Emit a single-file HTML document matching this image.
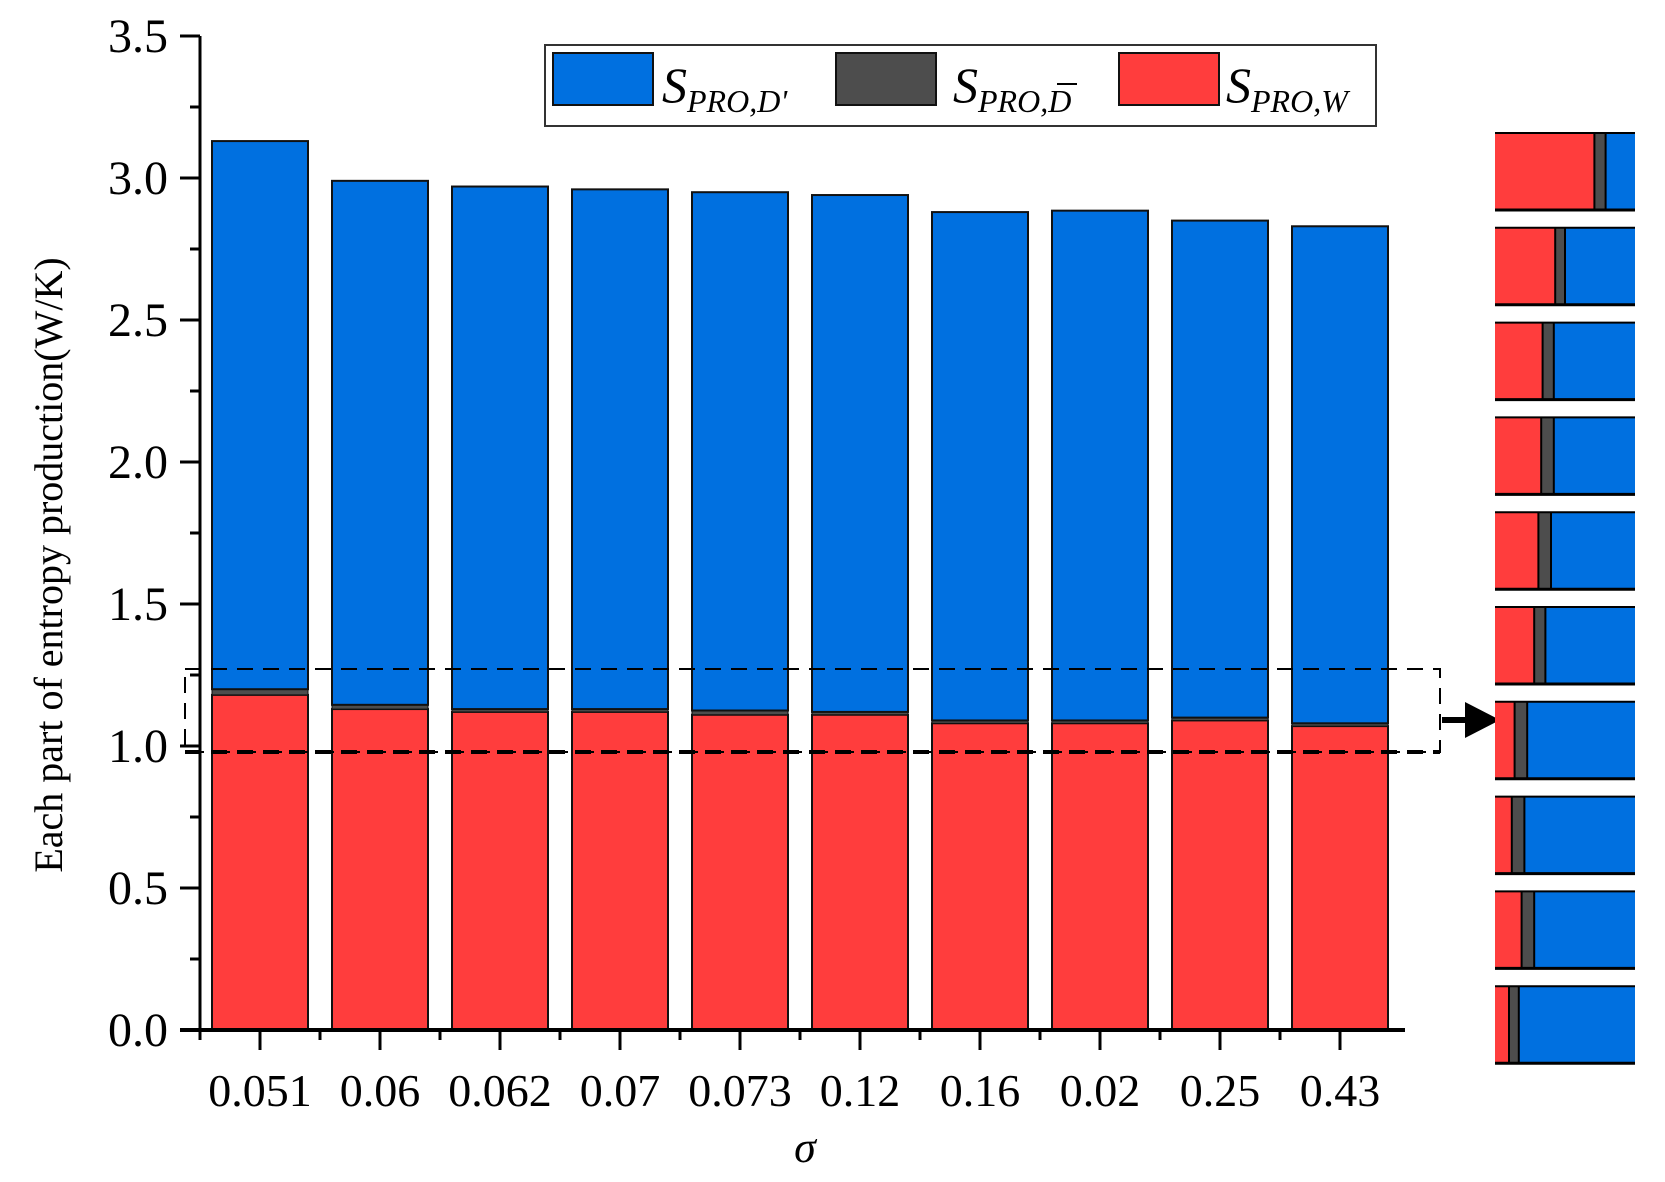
<!DOCTYPE html>
<html><head><meta charset="utf-8">
<style>
html,body{margin:0;padding:0;background:#fff;}
svg{display:block;font-family:"Liberation Serif",serif;}
</style></head>
<body>
<svg id="chart" width="1665" height="1182" viewBox="0 0 1665 1182">
<g id="plot"></g>
<g id="axes"></g>
<g id="legend">
  <rect x="545" y="45" width="831" height="81" fill="#fff" stroke="#333" stroke-width="2"/>
  <rect x="553" y="53" width="100" height="52" fill="#0070e0" stroke="#111" stroke-width="2"/>
  <text x="662" y="102" font-size="50" font-style="italic">S<tspan font-size="32" dy="10">PRO,D'</tspan></text>
  <rect x="836" y="53" width="100" height="52" fill="#4d4d4d" stroke="#111" stroke-width="2"/>
  <text x="953" y="102" font-size="50" font-style="italic">S<tspan font-size="32" dy="10">PRO,D</tspan></text>
  <line x1="1057" y1="84" x2="1077" y2="84" stroke="#000" stroke-width="2"/>
  <rect x="1119" y="53" width="100" height="52" fill="#ff3d3d" stroke="#111" stroke-width="2"/>
  <text x="1226" y="102" font-size="50" font-style="italic">S<tspan font-size="32" dy="10">PRO,W</tspan></text>
</g>
<text x="62" y="565" font-size="40" text-anchor="middle" transform="rotate(-90 62 565)">Each part of entropy production(W/K)</text>
<text x="805" y="1162" font-size="44" font-style="italic" text-anchor="middle">σ</text>
<g id="zoom">
  <rect x="185" y="669" width="1255" height="83" fill="none" stroke="#000" stroke-width="2" stroke-dasharray="16,10"/>
  <line x1="185" y1="752" x2="1440" y2="752" stroke="#000" stroke-width="4" stroke-dasharray="16,10"/>
  <line x1="1442" y1="720" x2="1470" y2="720" stroke="#000" stroke-width="6"/>
  <polygon points="1465,702 1500,720 1465,738" fill="#000"/>
</g>
<g id="strips"></g>
</svg>
<script>
const categories = ["0.051","0.06","0.062","0.07","0.073","0.12","0.16","0.02","0.25","0.43"];
const wValues = [1.18,1.13,1.12,1.12,1.11,1.11,1.08,1.08,1.09,1.07];
const dBarValues = [0.02,0.015,0.01,0.01,0.015,0.01,0.01,0.01,0.01,0.01];
const totalValues = [3.13,2.99,2.97,2.96,2.95,2.94,2.88,2.885,2.85,2.83];
const yTicks = [0,0.5,1.0,1.5,2.0,2.5,3.0,3.5];
const yTickLabels = ["0.0","0.5","1.0","1.5","2.0","2.5","3.0","3.5"];
const stripRedFrac = [0.71,0.43,0.34,0.33,0.31,0.28,0.14,0.12,0.19,0.10];
const stripDarkFrac = [0.08,0.07,0.08,0.09,0.09,0.08,0.09,0.09,0.09,0.07];

const NS="http://www.w3.org/2000/svg";
const X0=200, Y0=1030, PX=120, PY=284, BW=96;
const xc=i=>X0+PX*(i+0.5);
const ys=v=>Y0-v*PY;
function mk(tag,attrs,parent){const e=document.createElementNS(NS,tag);for(const k in attrs)e.setAttribute(k,attrs[k]);parent.appendChild(e);return e;}
const plot=document.getElementById('plot'), axes=document.getElementById('axes'), strips=document.getElementById('strips');
categories.forEach((c,i)=>{
  const x=xc(i)-BW/2;
  const w=wValues[i], d=dBarValues[i], t=totalValues[i];
  const r=mk('rect',{x:x,y:ys(w),width:BW,height:ys(0)-ys(w),fill:'#ff3d3d',stroke:'#111','stroke-width':2},plot);
  
  
  const dk=mk('rect',{x:x,y:ys(w+d),width:BW,height:ys(w)-ys(w+d),fill:'#4d4d4d',stroke:'#111','stroke-width':1},plot);
  
  
  const b=mk('rect',{x:x,y:ys(t),width:BW,height:ys(w+d)-ys(t),fill:'#0070e0',stroke:'#111','stroke-width':2},plot);
  
  
  mk('line',{x1:xc(i),y1:Y0,x2:xc(i),y2:Y0+20,stroke:'#000','stroke-width':3},axes);
  mk('line',{x1:X0+PX*i,y1:Y0,x2:X0+PX*i,y2:Y0+10,stroke:'#000','stroke-width':3},axes);
  const tl=mk('text',{x:xc(i),y:1106,'font-size':46,'text-anchor':'middle'},axes);
  tl.textContent=c;
  
  
  const sy=133+94.8*i, sx=1495, sw=140, sh=77;
  const rf=stripRedFrac[i], df=stripDarkFrac[i];
  const s1=mk('rect',{x:sx,y:sy,width:sw,height:sh,fill:'#0070e0'},strips);
  
  
  const s2=mk('rect',{x:sx,y:sy,width:sw*(rf+df),height:sh,fill:'#4d4d4d'},strips);
  
  
  mk('line',{x1:sx+sw*(rf+df),y1:sy,x2:sx+sw*(rf+df),y2:sy+sh,stroke:'#000','stroke-width':2},strips);
  const s3=mk('rect',{x:sx,y:sy,width:sw*rf,height:sh,fill:'#ff3d3d'},strips);
  
  
  mk('line',{x1:sx+sw*rf,y1:sy,x2:sx+sw*rf,y2:sy+sh,stroke:'#000','stroke-width':2},strips);
  mk('line',{x1:sx,y1:sy,x2:sx+sw,y2:sy,stroke:'#000','stroke-width':2},strips);
  mk('line',{x1:sx,y1:sy+sh,x2:sx+sw,y2:sy+sh,stroke:'#000','stroke-width':3},strips);
});
yTicks.forEach((v,i)=>{
  mk('line',{x1:X0-20,y1:ys(v),x2:X0,y2:ys(v),stroke:'#000','stroke-width':3},axes);
  if(i < yTicks.length-1) mk('line',{x1:X0-10,y1:ys(v+0.25),x2:X0,y2:ys(v+0.25),stroke:'#000','stroke-width':3},axes);
  const t=mk('text',{x:168,y:ys(v)+16,'font-size':48,'text-anchor':'end'},axes);
  t.textContent=yTickLabels[i];
  
  
});
const ya=mk('line',{x1:X0,y1:ys(3.5),x2:X0,y2:Y0+2,stroke:'#000','stroke-width':3},axes);


const xa=mk('line',{x1:X0-20,y1:Y0,x2:X0+PX*categories.length+5,y2:Y0,stroke:'#000','stroke-width':4},axes);


</script>
</body></html>
